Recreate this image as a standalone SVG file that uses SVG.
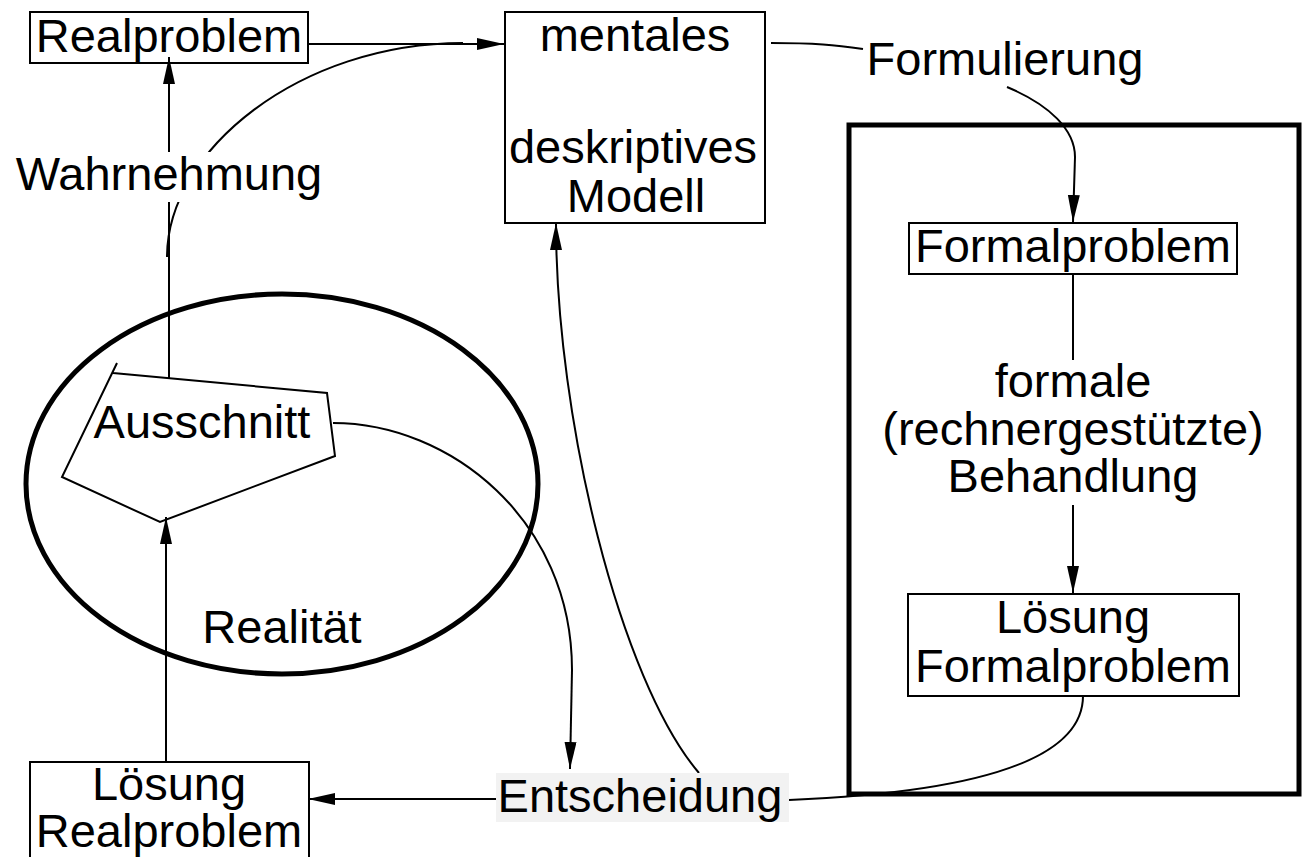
<svg xmlns="http://www.w3.org/2000/svg" width="1306" height="857" viewBox="0 0 1306 857">
<style>
text{font-family:"Liberation Sans",Arial,sans-serif;font-size:47px;fill:#000;text-anchor:middle}
.box{fill:none;stroke:#000;stroke-width:2}
.thick{fill:none;stroke:#000;stroke-width:5}
.ln{fill:none;stroke:#000;stroke-width:2}
.arr{marker-end:url(#ah)}
</style>
<defs>
<marker id="ah" markerUnits="userSpaceOnUse" markerWidth="28" markerHeight="14" refX="27" refY="6" orient="auto">
<path d="M0,0 L27,6 L0,12 z" fill="#000"/>
</marker>
</defs>
<g id="realitaet">
<ellipse class="thick" cx="282" cy="484" rx="256" ry="190"/>
<text x="282" y="643">Realität</text>
</g>
<g id="formal-frame">
<rect class="thick" x="849" y="125" width="450" height="669"/>
</g>
<g id="connectors">
<path class="ln arr" d="M308,44 L504,44"/>
<path class="ln" d="M167,257 C167,150 300,43 463,43"/>
<path class="ln arr" d="M169,378 L169,57"/>
<path class="ln arr" d="M166,762 L166,517"/>
<path class="ln" d="M333,423 C450,423 572,520 572,670"/>
<path class="ln arr" d="M572,670 L570,769"/>
<path class="ln arr" d="M699,773 C620,680 556,420 556,223"/>
<path class="ln arr" d="M496,799 L308,799"/>
<path class="ln" d="M1083,696 C1083,765 960,793 789,800"/>
<path class="ln" d="M771,43 C815,43 835,45 863,49"/>
<path class="ln" d="M1007,87 C1050,105 1075,130 1075,157"/>
<path class="ln arr" d="M1075,157 L1073,222"/>
<path class="ln" d="M1073,274 L1073,360"/>
<path class="ln arr" d="M1073,505 L1073,593"/>
</g>
<g id="realproblem">
<rect class="box" x="30" y="12" width="278" height="51" fill="#fff"/>
<text x="169" y="52">Realproblem</text>
</g>
<g id="wahrnehmung">
<rect x="12" y="152" width="314" height="50" fill="#fff"/>
<text x="169" y="190">Wahrnehmung</text>
</g>
<g id="mentales-modell">
<rect class="box" x="505" y="12" width="260" height="211"/>
<text x="635" y="51">mentales</text>
<text x="633" y="163">deskriptives</text>
<text x="636" y="212">Modell</text>
</g>
<g id="formulierung">
<text x="1005" y="75">Formulierung</text>
</g>
<g id="ausschnitt">
<path class="ln" d="M117,363 L62,477 L160,522 L335,456 L327,393 L113,373"/>
<text x="202" y="438">Ausschnitt</text>
</g>
<g id="formalproblem">
<rect class="box" x="909" y="223" width="328" height="51"/>
<text x="1073" y="262">Formalproblem</text>
</g>
<g id="behandlung">
<text x="1073" y="397">formale</text>
<text x="1073" y="445">(rechnergestützte)</text>
<text x="1073" y="492">Behandlung</text>
</g>
<g id="loesung-formal">
<rect class="box" x="908" y="594" width="331" height="102"/>
<text x="1073" y="633">Lösung</text>
<text x="1073" y="682">Formalproblem</text>
</g>
<g id="entscheidung">
<rect x="496" y="773" width="293" height="49" fill="#f2f2f2"/>
<text x="640" y="812">Entscheidung</text>
</g>
<g id="loesung-real">
<rect class="box" x="30" y="762" width="279" height="110"/>
<text x="169" y="800">Lösung</text>
<text x="169" y="847">Realproblem</text>
</g>
</svg>
